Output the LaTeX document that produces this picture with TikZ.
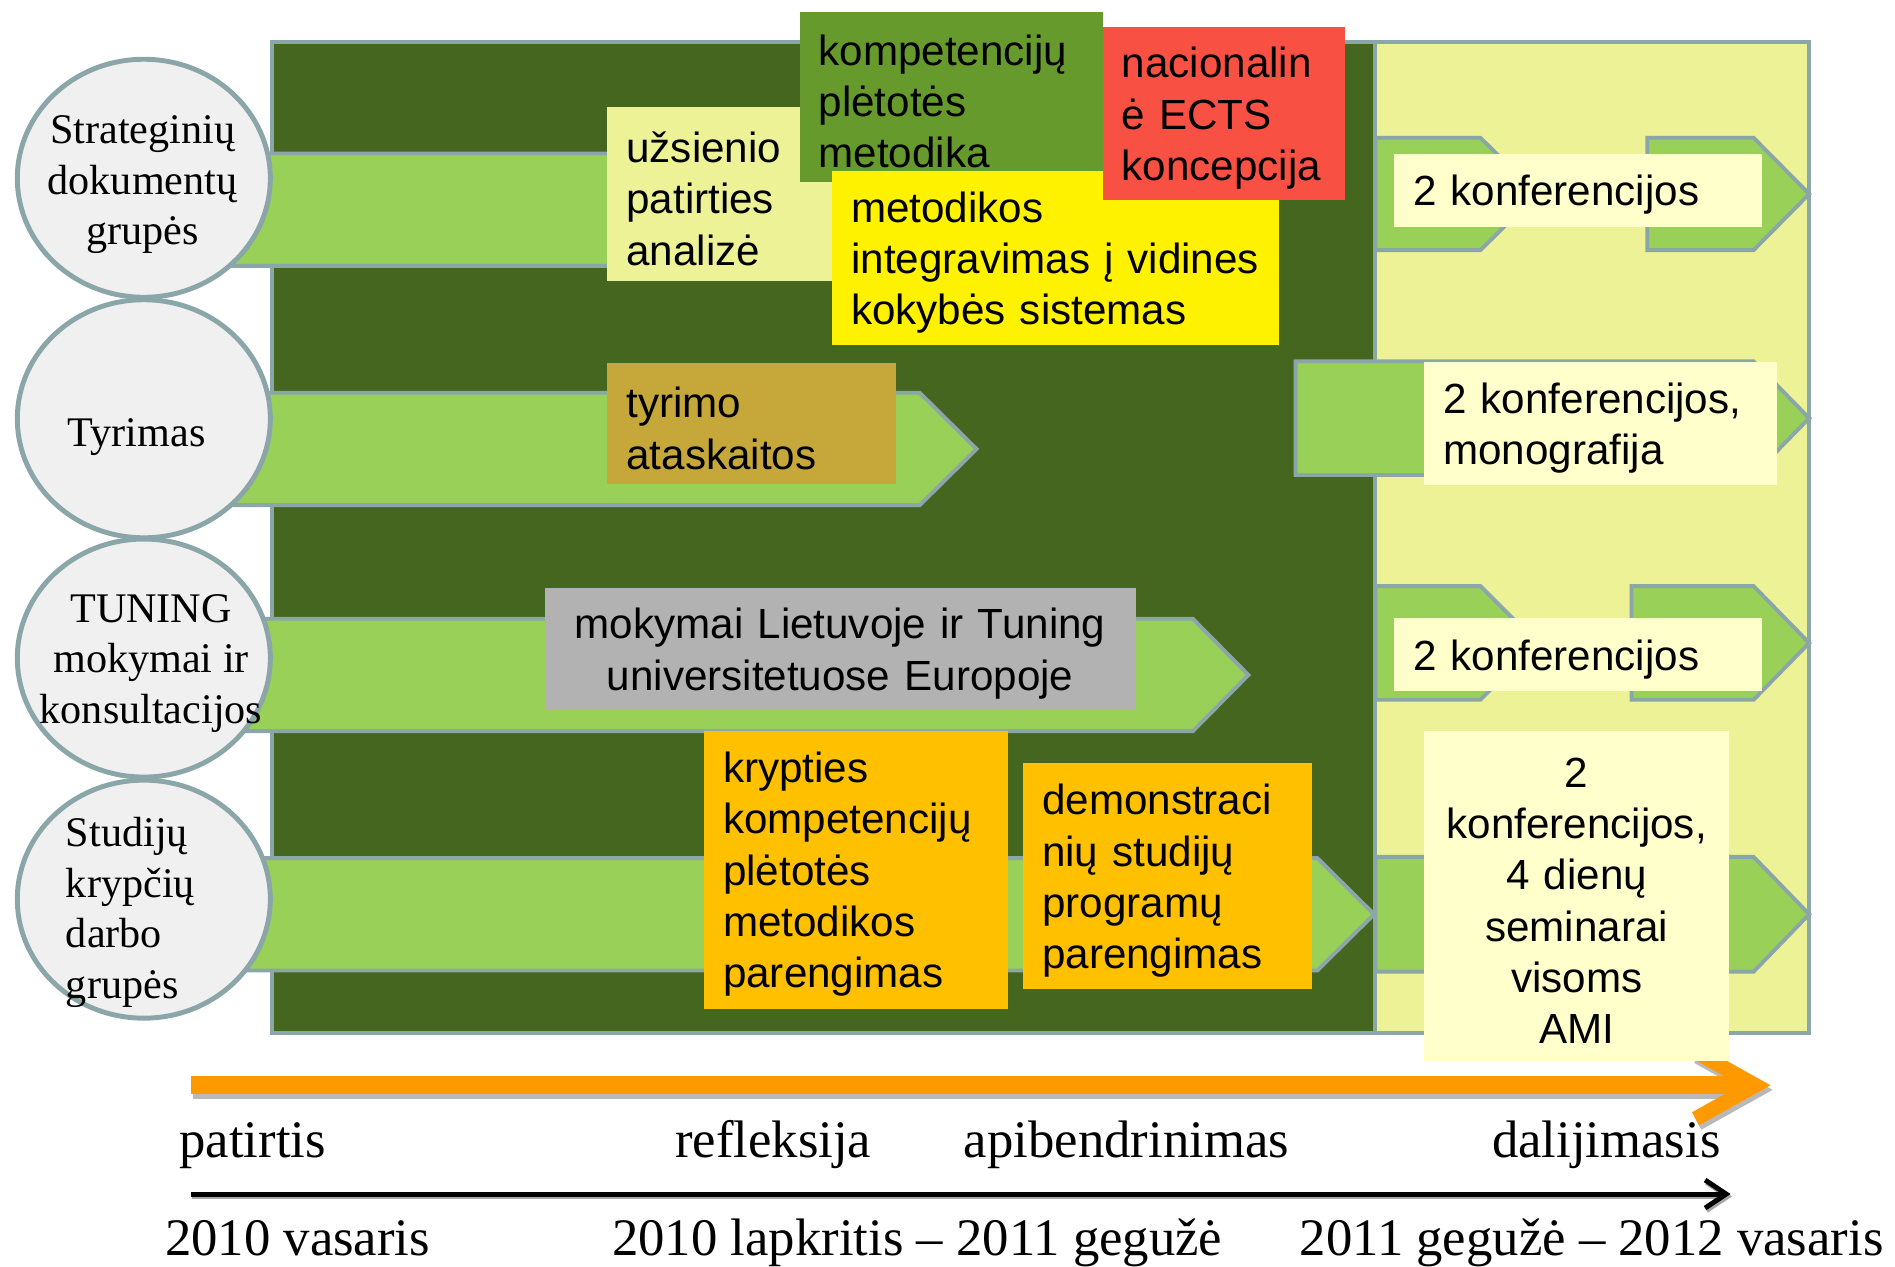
\documentclass[tikz,border=0pt]{standalone}
\usepackage{fontspec}
\setmainfont{Liberation Serif}
\setsansfont{Liberation Sans}
\usetikzlibrary{shapes.geometric,arrows.meta}

\definecolor{dkgreen}{RGB}{69,102,30}
\definecolor{bord}{RGB}{139,166,169}
\definecolor{bandgreen}{RGB}{153,208,88}
\definecolor{pale}{RGB}{238,242,150}
\definecolor{cream}{RGB}{255,255,204}
\definecolor{midgreen}{RGB}{102,154,44}
\definecolor{ectsred}{RGB}{249,80,68}
\definecolor{tyrcol}{RGB}{198,168,58}
\definecolor{boxorange}{RGB}{255,192,0}
\definecolor{timeorange}{RGB}{255,153,0}
\definecolor{cfill}{RGB}{240,240,240}

\begin{document}
\begin{tikzpicture}[x=0.012086cm,y=-0.012086cm,
  panel/.style={draw=bord,line width=1.2pt},
  band arrow/.style={fill=bandgreen,draw=bord,line width=1.1pt},
  box/.style={anchor=north west,font=\sffamily\fontsize{12}{14.6}\selectfont,align=left,inner xsep=0.19cm,inner ysep=0pt,
    execute at begin node={\rule{0pt}{11.3pt}}},
  grp/.style={ellipse,draw=bord,fill=cfill,line width=1.4pt,minimum width=2.53cm,minimum height=2.38cm,inner sep=0pt},
  grp text/.style={font=\fontsize{12}{14.4}\selectfont,inner sep=0pt},
  phase/.style={font=\fontsize{15}{18}\selectfont,anchor=base west,inner sep=0pt}]
  \useasboundingbox (0,0) rectangle (1568,1048);

  \draw[panel,fill=dkgreen] (225,35) rectangle (1138,855);
  \draw[panel,fill=pale] (1138,35) rectangle (1497,855);

  \draw[band arrow] (150,127) -- (633,127) -- (680,173.5) -- (633,220) -- (150,220) -- cycle;
  \draw[band arrow] (150,325) -- (761,325) -- (808,371.5) -- (761,418) -- (150,418) -- cycle;
  \draw[band arrow] (150,512) -- (987,512) -- (1033,558.5) -- (987,605) -- (150,605) -- cycle;
  \draw[band arrow] (150,710) -- (1090,710) -- (1137,756.5) -- (1090,803) -- (150,803) -- cycle;

  \draw[band arrow] (1138,114) -- (1225,114) -- (1272,160.5) -- (1225,207) -- (1138,207) -- cycle;
  \draw[band arrow] (1363,114) -- (1451,114) -- (1497,160.5) -- (1451,207) -- (1363,207) -- cycle;
  \draw[band arrow] (1072,299) -- (1451,299) -- (1497,346) -- (1451,393) -- (1072,393) -- cycle;
  \draw[band arrow] (1138,485) -- (1225,485) -- (1272,532) -- (1225,579) -- (1138,579) -- cycle;
  \draw[band arrow] (1350,485) -- (1451,485) -- (1497,532) -- (1451,579) -- (1350,579) -- cycle;
  \draw[band arrow] (1138,709) -- (1451,709) -- (1497,756.5) -- (1451,804) -- (1138,804) -- cycle;

  \coordinate (o1) at (158,898);
  \coordinate (o2) at (1465,898);
  \coordinate (k1) at (158,988);
  \coordinate (k2) at (1432,988);
  \draw[line width=5.2pt,draw=gray!55,-{Straight Barb[length=17pt,width=19pt,line width=4.2pt]},transform canvas={shift={(0.6pt,-1.3pt)}}] (o1) -- (o2);
  \draw[line width=5.2pt,draw=timeorange,-{Straight Barb[length=17pt,width=19pt,line width=4.2pt]}] (o1) -- (o2);
  \draw[line width=1.4pt,draw=gray!70,-{Straight Barb[length=6pt,width=8pt]},transform canvas={shift={(0.4pt,-0.7pt)}}] (k1) -- (k2);
  \draw[line width=1.4pt,-{Straight Barb[length=6pt,width=8pt]}] (k1) -- (k2);

  \node[box,fill=pale,text width=1.892cm,minimum height=1.740cm] (b1) at (502,88) {užsienio\\patirties\\analizė};
  \node[box,fill=midgreen,text width=2.654cm,minimum height=1.704cm] (b2) at (661,9) {kompetencijų\\plėtotės\\metodika};
  \node[box,fill=yellow,text width=4.092cm,minimum height=1.740cm] (b3) at (688,141) {metodikos\\integravimas į vidines\\kokybės sistemas};
  \node[box,fill=ectsred,text width=2.037cm,minimum height=1.728cm] (b4) at (912,22) {nacionalin\\ė ECTS\\koncepcija};
  \node[box,fill=tyrcol,text width=2.509cm,minimum height=1.209cm] (b5) at (502,300) {tyrimo\\ataskaitos};
  \node[box,fill=gray!60,align=center,text width=5.53cm,minimum height=1.221cm] (b6) at (450,486) {mokymai Lietuvoje ir Tuning\\universitetuose Europoje};
  \node[box,fill=boxorange,text width=2.654cm,minimum height=2.780cm] (b7) at (582,604) {krypties\\kompetencijų\\plėtotės\\metodikos\\parengimas};
  \node[box,fill=boxorange,text width=2.509cm,minimum height=2.260cm] (b8) at (846,631) {demonstraci\\nių studijų\\programų\\parengimas};

  \node[box,fill=cream,text width=3.294cm,minimum height=0.725cm] (r1) at (1153,127) {2 konferencijos};
  \node[box,fill=cream,text width=3.149cm,minimum height=1.233cm] (r2) at (1178,299) {2 konferencijos,\\monografija};
  \node[box,fill=cream,text width=3.294cm,minimum height=0.725cm] (r3) at (1153,511) {2 konferencijos};
  \node[box,fill=cream,align=center,text width=2.666cm,minimum height=3.299cm] (r4) at (1178,604) {2\\konferencijos,\\4 dienų\\seminarai\\visoms\\AMI};

  \node[grp] (g1) at (119,147.5) {};
  \node[grp] (g2) at (119,346.5) {};
  \node[grp] (g3) at (119,544.5) {};
  \node[grp] (g4) at (119,744) {};
  \node[grp text,align=center] (t1) at (118,153) {Strateginių\\dokumentų\\grupės};
  \node[grp text] (t2) at (113,362) {Tyrimas};
  \node[grp text,align=center] (t3) at (125,549) {TUNING\\mokymai ir\\konsultacijos};
  \node[grp text,align=left,anchor=west] (t4) at (54,755) {Studijų\\krypčių\\darbo\\grupės};

  \node[phase] (p1) at (148,958) {patirtis};
  \node[phase] (p2) at (558,958) {refleksija};
  \node[phase] (p3) at (797,958) {apibendrinimas};
  \node[phase] (p4) at (1234,958) {dalijimasis};
  \node[phase] (d1) at (136,1039) {2010 vasaris};
  \node[phase] (d2) at (506,1039) {2010 lapkritis -- 2011 gegužė};
  \node[phase] (d3) at (1075,1039) {2011 gegužė -- 2012 vasaris};
\end{tikzpicture}
\end{document}
